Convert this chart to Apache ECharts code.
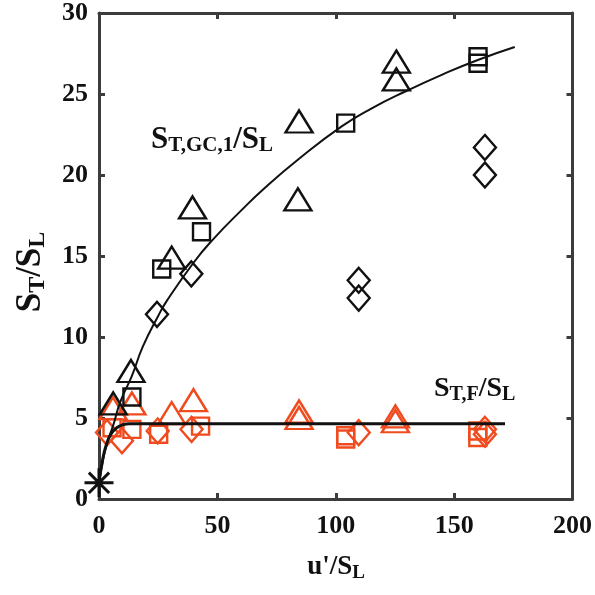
<!DOCTYPE html>
<html>
<head>
<meta charset="utf-8">
<script src="https://cdn.jsdelivr.net/npm/echarts@6/dist/echarts.min.js"></script>
<style>html,body{margin:0;padding:0;background:#fff}#c{width:595px;height:595px}</style>
</head>
<body>
<div id="c"></div>
<script>
// ---- data ----
var xTicks = [0, 50, 100, 150, 200];
var yTicks = [0, 5, 10, 15, 20, 25, 30];

var gcTriangles = [[39.5,18.0],[30.7,14.9],[84.5,23.3],[84,18.5],[125.6,27.0],[125.6,25.9],[13.5,7.9],[6,5.9]];
var gcSquares   = [[26.5,14.2],[43.3,16.5],[104.2,23.2],[160.1,27.3],[160.1,26.9],[13.9,6.3]];
var gcDiamonds  = [[24.5,11.4],[39,13.9],[109.7,13.5],[109.7,12.4],[163,21.7],[163,20.0]];

var fTriangles = [[39.9,6.1],[30.7,5.3],[13.9,5.9],[5.9,5.6],[84.5,5.4],[84.5,5.0],[125.2,5.1],[125.2,4.8]];
var fSquares   = [[42.9,4.5],[25.2,4.0],[13.9,4.3],[5.5,4.4],[104.2,3.9],[104.2,3.7],[160,4.2],[160,3.8]];
var fDiamonds  = [[24.8,4.2],[39.1,4.3],[9.7,3.6],[3.4,4.1],[109.7,4.1],[163,4.3],[163,4.0]];

var laminarPoint = [[0,1]];

var gcCurve = [[0,1],[1.7,2.4],[3.5,3.5],[5.9,4.5],[9,6.0],[13.9,7.6],[18.5,9.4],[25,11.3],[28.5,12.2],[40,14.6],[48,16.0],[60,17.8],[70,19.2],[84.5,21.0],[102.5,23.0],[115,24.1],[130,25.2],[145,26.2],[160,27.1],[175.6,27.9]];
var fCurve = [[0,1],[1.5,2.4],[3,3.3],[5,4.0],[7.5,4.4],[10,4.58],[13,4.65],[171.5,4.65]];

// ---- styling ----
var FONT = '"Liberation Serif", "Times New Roman", serif';
var AX = '#3c3c3c';
var ORANGE = '#f04b1e';
var INK = '#111';

var chart = echarts.init(document.getElementById('c'), null, {renderer: 'canvas'});

function scatter(data, symbol, size, color, z) {
  return {
    type: 'scatter', data: data, symbol: symbol, symbolSize: size,
    xAxisIndex: 0, yAxisIndex: 0, z: z || 2,
    itemStyle: {color: 'rgba(0,0,0,0)', borderColor: color, borderWidth: 2.4, opacity: 1},
    emphasis: {disabled: true}, silent: true
  };
}
function axisLabelStyle() {
  return {fontFamily: FONT, fontWeight: 'bold', fontSize: 26, color: INK};
}
function axisCommon(extra) {
  return Object.assign({
    axisLine: {show: true, onZero: false, lineStyle: {color: AX, width: 3}},
    axisTick: {show: true, inside: true, length: 6, lineStyle: {color: AX, width: 3}},
    splitLine: {show: false}
  }, extra);
}

var option = {
  animation: false,
  backgroundColor: '#fff',
  grid: {left: 99, right: 20, top: 13, bottom: 96, containLabel: false},
  xAxis: [
    axisCommon({type: 'value', min: 0, max: 200, interval: 50, position: 'bottom',
      axisLabel: Object.assign({margin: 14, formatter: function(v){return xTicks.indexOf(v) >= 0 ? String(v) : '';}}, axisLabelStyle())}),
    axisCommon({type: 'value', min: 0, max: 200, interval: 50, position: 'top', axisLabel: {show: false}})
  ],
  yAxis: [
    axisCommon({type: 'value', min: 0, max: 30, interval: 5, position: 'left',
      axisLabel: Object.assign({margin: 11, formatter: function(v){return yTicks.indexOf(v) >= 0 ? String(v) : '';}}, axisLabelStyle())}),
    axisCommon({type: 'value', min: 0, max: 30, interval: 5, position: 'right', axisLabel: {show: false}})
  ],
  series: [
    scatter(fSquares, 'rect', 17, ORANGE),
    scatter(fDiamonds, 'diamond', [22, 25], ORANGE),
    scatter(fTriangles, 'triangle', [27, 22], ORANGE),
    scatter(gcSquares, 'rect', 17, INK, 3),
    scatter(gcDiamonds, 'diamond', [22, 25], INK, 3),
    scatter(gcTriangles, 'triangle', [27, 22], INK, 3),
    {
      type: 'line', data: gcCurve, smooth: 0.5, symbol: 'none', z: 4,
      lineStyle: {color: INK, width: 2}, silent: true
    },
    {
      type: 'line', data: fCurve, smooth: 0.5, symbol: 'none', z: 4,
      lineStyle: {color: INK, width: 3}, silent: true
    },
    {
      type: 'scatter', data: laminarPoint, z: 5,
      symbol: 'path://M10,0L10,20M0,10L20,10M3,3L17,17M3,17L17,3', symbolSize: 29,
      itemStyle: {color: 'rgba(0,0,0,0)', borderColor: INK, borderWidth: 3, opacity: 1}, silent: true
    }
  ],
  graphic: [
    {
      type: 'text', x: 151, y: 139, z: 10,
      style: {
        text: '{m|S}{s|T,GC,1}{m|/S}{s|L}',
        align: 'left', verticalAlign: 'middle', fill: INK,
        rich: {
          m: {fontFamily: FONT, fontWeight: 'bold', fontSize: 31, lineHeight: 30, verticalAlign: 'top', fill: INK},
          s: {fontFamily: FONT, fontWeight: 'bold', fontSize: 21, lineHeight: 20, verticalAlign: 'top', padding: [11,0,0,0], fill: INK}
        }
      }
    },
    {
      type: 'text', x: 434, y: 388, z: 10,
      style: {
        text: '{m|S}{s|T,F}{m|/S}{s|L}',
        align: 'left', verticalAlign: 'middle', fill: INK,
        rich: {
          m: {fontFamily: FONT, fontWeight: 'bold', fontSize: 28, lineHeight: 27, verticalAlign: 'top', fill: INK},
          s: {fontFamily: FONT, fontWeight: 'bold', fontSize: 20, lineHeight: 19, verticalAlign: 'top', padding: [10,0,0,0], fill: INK}
        }
      }
    },
    {
      type: 'text', x: 30, y: 272, rotation: Math.PI / 2, z: 10,
      style: {
        text: '{m|S}{s|T}{m|/S}{s|L}',
        align: 'center', verticalAlign: 'middle', fill: INK,
        rich: {
          m: {fontFamily: FONT, fontWeight: 'bold', fontSize: 35, lineHeight: 34, verticalAlign: 'top', fill: INK},
          s: {fontFamily: FONT, fontWeight: 'bold', fontSize: 24, lineHeight: 23, verticalAlign: 'top', padding: [13,0,0,0], fill: INK}
        }
      }
    },
    {
      type: 'text', x: 336, y: 567, z: 10,
      style: {
        text: "{m|u'/S}{s|L}",
        align: 'center', verticalAlign: 'middle', fill: INK,
        rich: {
          m: {fontFamily: FONT, fontWeight: 'bold', fontSize: 27, lineHeight: 26, verticalAlign: 'top', fill: INK},
          s: {fontFamily: FONT, fontWeight: 'bold', fontSize: 19, lineHeight: 18, verticalAlign: 'top', padding: [10,0,0,0], fill: INK}
        }
      }
    }
  ]
};
chart.setOption(option);
</script>
</body>
</html>
